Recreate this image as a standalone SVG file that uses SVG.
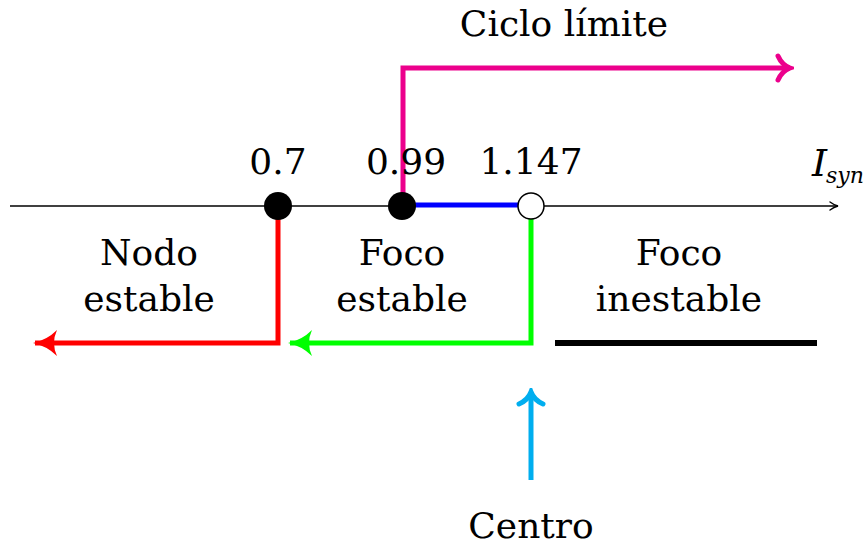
<svg xmlns="http://www.w3.org/2000/svg" width="865" height="548" viewBox="0 0 865 548">
<style>
text{font-family:'DejaVu Serif','Liberation Serif',serif;font-size:36px;fill:#000;text-anchor:middle}
.c{fill:none;stroke-width:5;stroke-linecap:butt;stroke-linejoin:miter}
</style>
<defs>
<marker id="ax" viewBox="0 0 10 10" refX="9" refY="5" markerWidth="10" markerHeight="10" markerUnits="userSpaceOnUse" orient="auto"><path d="M1,1 Q5,4 9,5 Q5,6 1,9" fill="none" stroke="#000" stroke-width="1.4" stroke-linecap="round"/></marker>
<marker id="pk" viewBox="0 0 20 30" refX="16" refY="15" markerWidth="20" markerHeight="30" markerUnits="userSpaceOnUse" orient="auto"><path d="M4,3 Q8,12 16,15 Q8,18 4,27" fill="none" stroke="#ec008c" stroke-width="5" stroke-linecap="round"/></marker>
<marker id="cy" viewBox="0 0 20 30" refX="16" refY="15" markerWidth="20" markerHeight="30" markerUnits="userSpaceOnUse" orient="auto"><path d="M4,3 Q8,12 16,15 Q8,18 4,27" fill="none" stroke="#00aeef" stroke-width="5" stroke-linecap="round"/></marker>
<marker id="rd" viewBox="0 0 26 30" refX="22" refY="15" markerWidth="26" markerHeight="30" markerUnits="userSpaceOnUse" orient="auto"><path d="M0,2 Q10,12 24,15 Q10,18 0,28 Q6,15 0,2Z" fill="#ff0000"/></marker>
<marker id="gr" viewBox="0 0 26 30" refX="22" refY="15" markerWidth="26" markerHeight="30" markerUnits="userSpaceOnUse" orient="auto"><path d="M0,2 Q10,12 24,15 Q10,18 0,28 Q6,15 0,2Z" fill="#00ff00"/></marker>
</defs>
<g id="connectors">
<line x1="10" y1="206" x2="838" y2="206" stroke="#000" stroke-width="1.4" marker-end="url(#ax)"/>
<polyline class="c" stroke="#ec008c" points="403,193 403,68 790,68" marker-end="url(#pk)"/>
<line class="c" stroke="#0000ff" x1="401" y1="205" x2="518" y2="205"/>
<polyline class="c" stroke="#00ff00" points="531,219 531,343 290,343" marker-end="url(#gr)"/>
<polyline class="c" stroke="#ff0000" points="278,219 278,343 35,343" marker-end="url(#rd)"/>
<line x1="555" y1="343" x2="817" y2="343" stroke="#000" stroke-width="6"/>
<line class="c" stroke="#00aeef" x1="531" y1="480" x2="531" y2="392" marker-end="url(#cy)"/>
</g>
<g id="p07"><circle cx="278" cy="206" r="14" fill="#000"/><text x="278" y="174">0.7</text></g>
<g id="p099"><circle cx="402" cy="206" r="14" fill="#000"/><text x="406" y="174">0.99</text></g>
<g id="p1147"><circle cx="531" cy="206" r="13" fill="#fff" stroke="#000" stroke-width="1.5"/><text x="531" y="174">1.147</text></g>
<g id="axislabel"><text x="812" y="176" style="text-anchor:start;font-style:italic;font-size:38px">I<tspan x="826" font-size="22" dy="7">syn</tspan></text></g>
<g id="ciclo"><text x="564" y="36">Ciclo límite</text></g>
<g id="nodo"><text x="149" y="265">Nodo</text><text x="149" y="311">estable</text></g>
<g id="focoest"><text x="402" y="265">Foco</text><text x="402" y="311">estable</text></g>
<g id="focoinest"><text x="679" y="265">Foco</text><text x="679" y="311">inestable</text></g>
<g id="centro"><text x="531" y="538">Centro</text></g>
</svg>
